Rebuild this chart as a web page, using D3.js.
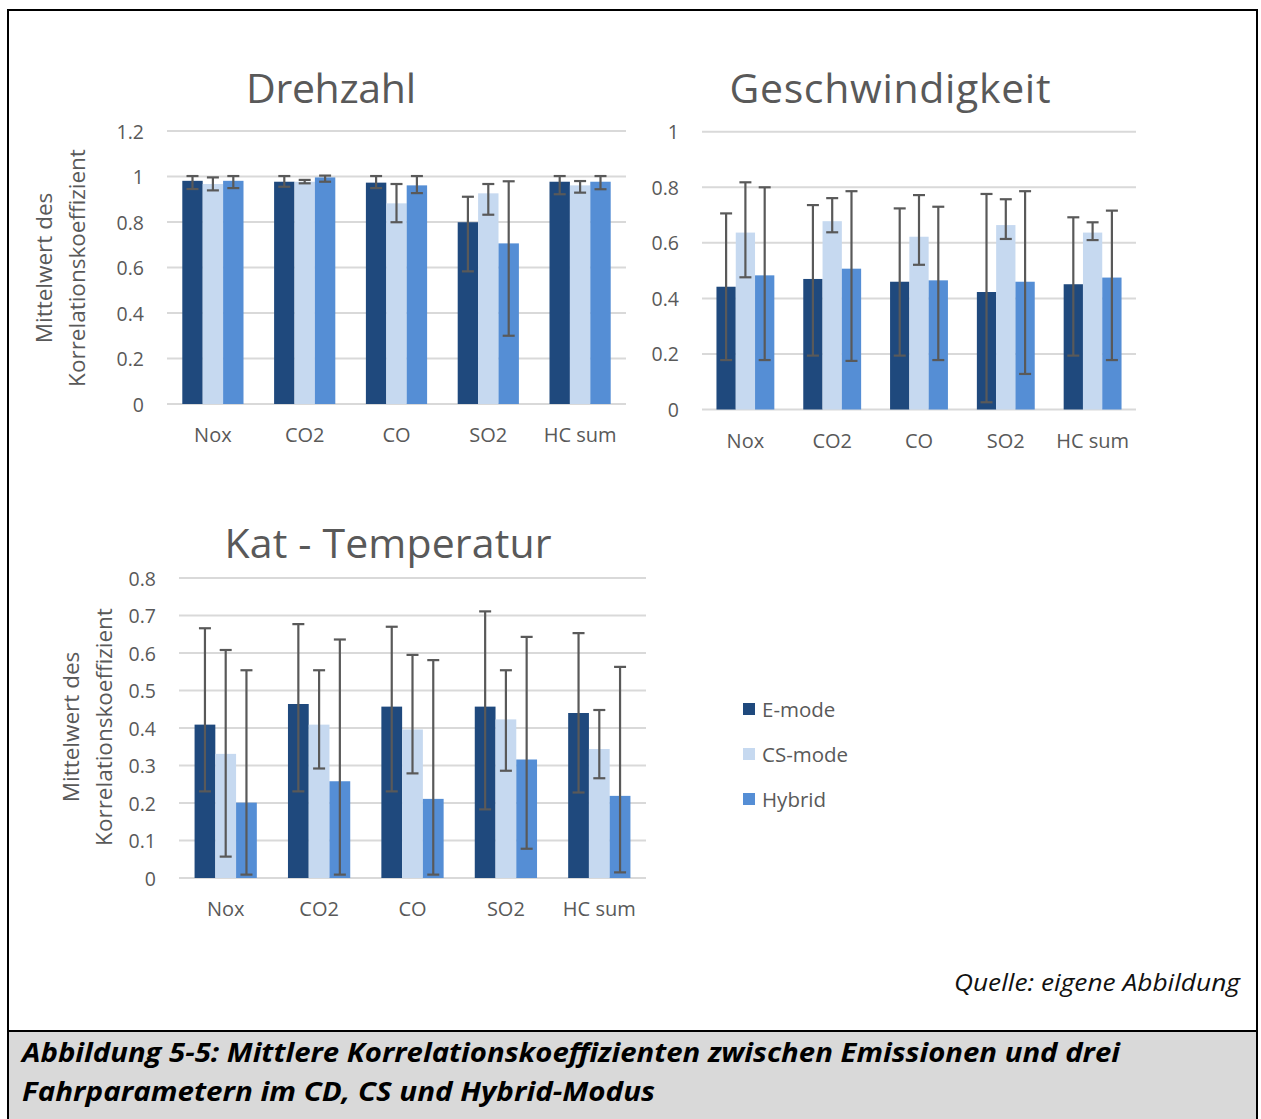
<!DOCTYPE html>
<html>
<head>
<meta charset="utf-8">
<script src="https://cdn.jsdelivr.net/npm/d3@7"></script>
<style>
  html, body { margin: 0; padding: 0; background: #fff; }
  svg { display: block; }
  text { font-family: "Open Sans", "Noto Sans", sans-serif; }
</style>
</head>
<body>
<svg id="fig" width="1261" height="1119"></svg>
<script>
// Emission categories and driving modes
const categories = ["Nox", "CO2", "CO", "SO2", "HC sum"];
const seriesNames = ["E-mode", "CS-mode", "Hybrid"];
const seriesColors = ["#1f497d", "#c6d9f0", "#558ed5"];

// Drehzahl: mean correlation, error bar low / high
const drehzahlMean = [
  [0.981, 0.977, 0.973, 0.799, 0.977],
  [0.967, 0.977, 0.882, 0.926, 0.961],
  [0.981, 0.996, 0.961, 0.706, 0.977]
];
const drehzahlLow = [
  [0.945, 0.955, 0.949, 0.583, 0.922],
  [0.939, 0.970, 0.799, 0.832, 0.929],
  [0.949, 0.977, 0.927, 0.300, 0.944]
];
const drehzahlHigh = [
  [1.002, 1.002, 1.002, 0.911, 1.002],
  [0.996, 0.985, 0.967, 0.967, 0.980],
  [1.002, 1.004, 1.002, 0.979, 1.002]
];

// Geschwindigkeit
const geschwMean = [
  [0.442, 0.470, 0.460, 0.423, 0.451],
  [0.637, 0.678, 0.622, 0.664, 0.637],
  [0.483, 0.507, 0.465, 0.460, 0.475]
];
const geschwLow = [
  [0.178, 0.194, 0.194, 0.026, 0.194],
  [0.476, 0.638, 0.521, 0.614, 0.610],
  [0.178, 0.175, 0.178, 0.128, 0.178]
];
const geschwHigh = [
  [0.706, 0.736, 0.724, 0.776, 0.692],
  [0.818, 0.761, 0.772, 0.757, 0.674],
  [0.800, 0.786, 0.730, 0.786, 0.716]
];

// Kat - Temperatur
const katMean = [
  [0.409, 0.464, 0.457, 0.457, 0.440],
  [0.331, 0.409, 0.396, 0.423, 0.344],
  [0.201, 0.258, 0.211, 0.316, 0.219]
];
const katLow = [
  [0.231, 0.231, 0.231, 0.183, 0.228],
  [0.057, 0.292, 0.279, 0.286, 0.266],
  [0.009, 0.009, 0.009, 0.078, 0.015]
];
const katHigh = [
  [0.666, 0.677, 0.670, 0.711, 0.653],
  [0.608, 0.554, 0.595, 0.554, 0.448],
  [0.554, 0.636, 0.581, 0.643, 0.563]
];

const drehzahlTicks = [0, 0.2, 0.4, 0.6, 0.8, 1, 1.2];
const geschwTicks = [0, 0.2, 0.4, 0.6, 0.8, 1];
const katTicks = [0, 0.1, 0.2, 0.3, 0.4, 0.5, 0.6, 0.7, 0.8];

const yTitleLines = ["Mittelwert des", "Korrelationskoeffizient"];
const captionLines = [
  "Abbildung 5-5: Mittlere Korrelationskoeffizienten zwischen Emissionen und drei",
  "Fahrparametern im CD, CS und Hybrid-Modus"
];
const sourceNote = "Quelle: eigene Abbildung";

const svg = d3.select("#fig");
const textColor = "#595959";
const gridColor = "#d9d9d9";

// Fit a text element to a given width
function fitWidth(el, w, mode) {
  el.attr("textLength", w).attr("lengthAdjust", mode || "spacingAndGlyphs");
}

// Frame and caption band
svg.append("rect").attr("x", 8).attr("y", 1031).attr("width", 1249).attr("height", 92)
  .attr("fill", "#d9d9d9");
svg.append("rect").attr("x", 8).attr("y", 10).attr("width", 1249).attr("height", 1120)
  .attr("fill", "none").attr("stroke", "#000").attr("stroke-width", 2);
svg.append("line").attr("x1", 8).attr("x2", 1257).attr("y1", 1031).attr("y2", 1031)
  .attr("stroke", "#000").attr("stroke-width", 2);

function panel(cfg) {
  const g = svg.append("g");
  const x = d3.scaleBand().domain(categories).range([cfg.left, cfg.right]).padding(0);
  const bw = x.bandwidth();
  const barW = bw / 4.5;
  const inner = d3.scaleBand().domain(d3.range(seriesNames.length))
    .range([barW * 0.75, bw - barW * 0.75]).padding(0);
  const y = d3.scaleLinear().domain([0, cfg.max]).range([cfg.bottom, cfg.top]);

  // gridlines
  g.selectAll("line.grid").data(cfg.ticks).join("line")
    .attr("x1", cfg.left).attr("x2", cfg.right)
    .attr("y1", d => y(d)).attr("y2", d => y(d))
    .attr("stroke", gridColor).attr("stroke-width", 2);

  // y tick labels
  g.selectAll("text.yt").data(cfg.ticks).join("text")
    .attr("x", cfg.left - 23).attr("y", d => y(d))
    .attr("text-anchor", "end").attr("dominant-baseline", "central")
    .attr("font-size", 19.5).attr("fill", textColor)
    .text(d => d3.format("~g")(d));

  // category labels
  g.selectAll("text.xt").data(categories).join("text")
    .attr("x", d => x(d) + bw / 2).attr("y", cfg.bottom + 38)
    .attr("text-anchor", "middle")
    .attr("font-size", 20).attr("fill", textColor)
    .text(d => d);

  // bars
  cfg.mean.forEach((vals, s) => {
    g.selectAll(null).data(vals).join("rect")
      .attr("x", (d, i) => x(categories[i]) + inner(s))
      .attr("width", inner.bandwidth())
      .attr("y", d => y(d))
      .attr("height", d => y(0) - y(d))
      .attr("fill", seriesColors[s]);
  });

  // error bars
  cfg.mean.forEach((vals, s) => {
    vals.forEach((v, i) => {
      const cx = x(categories[i]) + inner(s) + inner.bandwidth() / 2;
      const lo = y(cfg.low[s][i]), hi = y(cfg.high[s][i]);
      const eg = g.append("g").attr("stroke", "#595959").attr("stroke-width", 2.2);
      eg.append("line").attr("x1", cx).attr("x2", cx).attr("y1", lo).attr("y2", hi);
      eg.append("line").attr("x1", cx - 6).attr("x2", cx + 6).attr("y1", lo).attr("y2", lo);
      eg.append("line").attr("x1", cx - 6).attr("x2", cx + 6).attr("y1", hi).attr("y2", hi);
    });
  });

  // title
  const t = g.append("text").attr("x", cfg.titleX).attr("y", cfg.titleY)
    .attr("text-anchor", "middle").attr("font-size", 41).attr("fill", textColor)
    .text(cfg.title);
  fitWidth(t, cfg.titleW, "spacing");

  // y axis title
  if (cfg.yTitle) {
    yTitleLines.forEach((line, k) => {
      g.append("text")
        .attr("transform", `translate(${cfg.yTitle.x + k * 33},${cfg.yTitle.y}) rotate(-90)`)
        .attr("text-anchor", "middle").attr("dominant-baseline", "central")
        .attr("font-size", 22.5).attr("fill", textColor)
        .text(line);
    });
  }
}

panel({
  title: "Drehzahl", titleX: 331, titleY: 103, titleW: 170,
  left: 167, right: 626, top: 131, bottom: 404, max: 1.2, ticks: drehzahlTicks,
  mean: drehzahlMean, low: drehzahlLow, high: drehzahlHigh,
  yTitle: { x: 43, y: 268 }
});
panel({
  title: "Geschwindigkeit", titleX: 890, titleY: 103, titleW: 321,
  left: 702, right: 1136, top: 131.75, bottom: 409.5, max: 1, ticks: geschwTicks,
  mean: geschwMean, low: geschwLow, high: geschwHigh
});
panel({
  title: "Kat - Temperatur", titleX: 388, titleY: 558, titleW: 327,
  left: 179, right: 646, top: 578, bottom: 878, max: 0.8, ticks: katTicks,
  mean: katMean, low: katLow, high: katHigh,
  yTitle: { x: 70, y: 727 }
});

// legend
const legend = svg.append("g");
seriesNames.forEach((name, i) => {
  const ly = 709 + i * 45;
  legend.append("rect").attr("x", 743).attr("y", ly - 6).attr("width", 12).attr("height", 12)
    .attr("fill", seriesColors[i]);
  legend.append("text").attr("x", 762).attr("y", ly).attr("dominant-baseline", "central")
    .attr("font-size", 20.5).attr("fill", textColor).text(name);
});

// source note
const note = svg.append("text").attr("x", 954).attr("y", 991)
  .attr("font-size", 23).attr("font-style", "italic").attr("fill", "#111")
  .text(sourceNote);
fitWidth(note, 286);

// caption
captionLines.forEach((line, k) => {
  const el = svg.append("text").attr("x", 22).attr("y", 1062 + k * 39)
    .attr("font-size", 27).attr("font-weight", "bold").attr("font-style", "italic")
    .attr("fill", "#000").text(line);
  fitWidth(el, k === 0 ? 1098 : 633);
});
</script>
</body>
</html>
